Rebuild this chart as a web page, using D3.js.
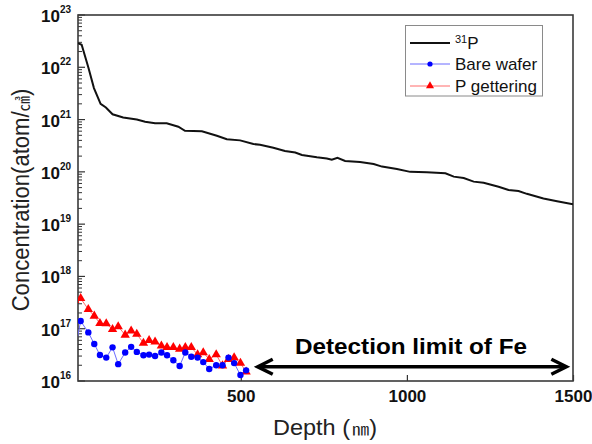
<!DOCTYPE html>
<html lang="en">
<head>
    <meta charset="UTF-8">
    <title>Concentration vs Depth</title>
    <style>
        body { margin: 0; background: #ffffff; }
        svg { display: block; font-family: Arial, 'Liberation Sans', 'Noto Sans CJK KR', sans-serif; }
        .tick-label { font-weight: bold; font-size: 17px; fill: #111; }
    </style>
    <script src="https://d3js.org/d3.v7.min.js"></script>
</head>
<body>
<svg id="chart" width="592" height="444"></svg>
<script>
    // 31P profile (depth nm, atom/cm3)
    const p31Depth = [10, 21, 41, 58, 78, 94, 114, 146, 187, 212, 242, 277, 312, 332, 383, 428, 458, 498,
        538, 558, 598, 633, 664, 684, 729, 759, 774, 791, 814, 859, 900, 925, 970, 1010, 1060, 1116, 1141,
        1171, 1201, 1231, 1276, 1306, 1336, 1361, 1411, 1452, 1500];
    const p31Conc = [2.9e22, 2.7e22, 1.0e22, 4e21, 2e21, 1.7e21, 1.26e21, 1.1e21, 1.0e21, 9.1e20, 8.5e20, 8.5e20,
        7.3e20, 6.1e20, 6e20, 4.9e20, 4.2e20, 4e20, 3.4e20, 3.3e20, 2.9e20, 2.5e20, 2.35e20, 2.1e20, 1.9e20,
        1.8e20, 1.7e20, 1.85e20, 1.62e20, 1.55e20, 1.41e20, 1.26e20, 1.13e20, 1.0e20, 9.8e19, 9.4e19, 8.1e19,
        7.6e19, 6.5e19, 6.2e19, 5.2e19, 4.5e19, 4.3e19, 3.8e19, 3.1e19, 2.75e19, 2.4e19];

    // Fe profiles
    const feDepth = [0, 18, 41, 59, 76, 95, 114, 131, 152, 170, 187, 207, 224, 242, 261, 278, 297, 316, 333,
        351, 370, 387, 405, 426, 445, 463, 480, 499, 516];
    const bareConc = [3.6e16, 1.4e17, 8.5e16, 5.1e16, 3.15e16, 2.8e16, 4.4e16, 2.1e16, 3.5e16, 4.5e16, 3.6e16,
        3.1e16, 3.2e16, 3.0e16, 3.5e16, 3.1e16, 2.5e16, 1.94e16, 3.5e16, 2.9e16, 2.8e16, 2.3e16, 1.7e16,
        2.0e16, 2.0e16, 2.8e16, 2.2e16, 1.3e16, 1.6e16];
    const pgetConc = [3.5e17, 3.8e17, 2.35e17, 1.75e17, 1.27e17, 1.25e17, 9.7e16, 1.1e17, 7.6e16, 9.1e16, 7.9e16,
        5.3e16, 6e16, 5.6e16, 4.7e16, 4.4e16, 4.4e16, 4.1e16, 4.4e16, 4.4e16, 3.2e16, 3.5e16, 2.6e16, 3.2e16,
        1.96e16, 2.6e16, 2.8e16, 2.2e16, 1.5e16];

    const xTicks = [500, 1000, 1500];
    const yExponents = [16, 17, 18, 19, 20, 21, 22, 23];
    const legendLabels = ["31P", "Bare wafer", "P gettering"];
    const detectionRange = [548, 1483];
    const detectionLevel = 1.87e16;

    const svg = d3.select("#chart");
    const pLeft = 78, pRight = 573, pTop = 15, pBottom = 381;

    const x = d3.scaleLinear().domain([10, 1500]).range([pLeft, pRight]);
    const y = d3.scaleLog().domain([1e16, 1e23]).range([pBottom, pTop]);

    svg.append("defs").append("clipPath").attr("id", "plot-clip")
        .append("rect").attr("x", pLeft).attr("y", pTop)
        .attr("width", pRight - pLeft).attr("height", pBottom - pTop);

    // minor + major ticks on y axis (inside)
    const yAxis = svg.append("g").attr("transform", `translate(${pLeft},0)`);
    yExponents.forEach(e => {
        yAxis.append("line").attr("x1", 0).attr("x2", 7)
            .attr("y1", y(Math.pow(10, e))).attr("y2", y(Math.pow(10, e)))
            .attr("stroke", "#333").attr("stroke-width", 1.2);
        if (e < 23) {
            for (let m = 2; m < 10; m++) {
                const v = m * Math.pow(10, e);
                yAxis.append("line").attr("x1", 0).attr("x2", 4)
                    .attr("y1", y(v)).attr("y2", y(v))
                    .attr("stroke", "#333").attr("stroke-width", 1);
            }
        }
        const t = svg.append("text").attr("class", "tick-label")
            .attr("x", 71).attr("y", y(Math.pow(10, e)) + 7)
            .attr("text-anchor", "end");
        t.append("tspan").attr("font-size", 17).text("10");
        t.append("tspan").attr("font-size", 10).attr("dy", -9).text(e);
    });

    // x ticks
    const xAxis = svg.append("g").attr("transform", `translate(0,${pBottom})`)
        .call(d3.axisBottom(x).tickValues(xTicks).tickSize(-6).tickFormat(d3.format("d")));
    xAxis.select(".domain").remove();
    xAxis.selectAll(".tick line").attr("stroke", "#333").attr("stroke-width", 1.2);
    xAxis.selectAll(".tick text").attr("class", "tick-label").attr("dy", 0).attr("y", 21);
    xAxis.attr("font-family", null).attr("font-size", null);

    // frame
    svg.append("rect").attr("x", pLeft).attr("y", pTop)
        .attr("width", pRight - pLeft).attr("height", pBottom - pTop)
        .attr("fill", "none").attr("stroke", "#3a3a3a").attr("stroke-width", 1.6);

    const plot = svg.append("g").attr("clip-path", "url(#plot-clip)");

    const line = d3.line().x(d => x(d[0])).y(d => y(d[1]));

    plot.append("path")
        .datum(d3.zip(p31Depth, p31Conc))
        .attr("d", line).attr("fill", "none")
        .attr("stroke", "#111").attr("stroke-width", 2);

    const bare = d3.zip(feDepth, bareConc);
    const pget = d3.zip(feDepth, pgetConc);

    plot.append("path").datum(bare).attr("d", line).attr("fill", "none")
        .attr("stroke", "#6b6bff").attr("stroke-width", 1);
    plot.append("path").datum(pget).attr("d", line).attr("fill", "none")
        .attr("stroke", "#ff6b6b").attr("stroke-width", 1);

    const tri = d3.symbol().type(d3.symbolTriangle).size(38);
    plot.selectAll(".tri").data(pget).join("path").attr("class", "tri")
        .attr("d", tri).attr("transform", d => `translate(${x(d[0])},${y(d[1])})`)
        .attr("fill", "#ff0000");
    plot.selectAll(".dot").data(bare).join("circle").attr("class", "dot")
        .attr("cx", d => x(d[0])).attr("cy", d => y(d[1])).attr("r", 3.2)
        .attr("fill", "#0000ff");

    // detection limit arrow
    const ay = y(detectionLevel), ax0 = x(detectionRange[0]), ax1 = x(detectionRange[1]);
    const arrow = svg.append("g").attr("stroke", "#000").attr("stroke-width", 3.5)
        .attr("fill", "none").attr("stroke-linecap", "butt");
    arrow.append("line").attr("x1", ax0 + 2).attr("x2", ax1 - 2).attr("y1", ay).attr("y2", ay);
    arrow.append("path").attr("d", `M${ax0 + 16},${ay - 7.5}L${ax0 + 1},${ay}L${ax0 + 16},${ay + 7.5}`);
    arrow.append("path").attr("d", `M${ax1 - 16},${ay - 7.5}L${ax1 - 1},${ay}L${ax1 - 16},${ay + 7.5}`);
    svg.append("text").attr("x", 295).attr("y", 354)
        .attr("font-size", 22).attr("font-weight", "bold").attr("fill", "#000")
        .attr("textLength", 232).attr("lengthAdjust", "spacingAndGlyphs")
        .text("Detection limit of Fe");

    // axis titles
    const xt = svg.append("text").attr("x", 273).attr("y", 435)
        .attr("font-size", 22).attr("fill", "#222")
        .attr("textLength", 104).attr("lengthAdjust", "spacingAndGlyphs");
    xt.append("tspan").text("Depth (");
    xt.append("tspan").attr("font-size", 16).attr("dx", 2).text("㎚");
    xt.append("tspan").text(")");

    // rotated title, squeezed slightly along its length to the reference width
    const yt = svg.append("text").attr("transform", "translate(29,200) rotate(-90) scale(0.96,1)")
        .attr("text-anchor", "middle").attr("font-size", 23).attr("fill", "#222");
    yt.append("tspan").text("Concentration(atom/");
    yt.append("tspan").attr("font-size", 16).text("㎤");
    yt.append("tspan").text(")");

    // legend
    const lg = svg.append("g");
    lg.append("rect").attr("x", 405.5).attr("y", 25.5).attr("width", 137).attr("height", 70.5)
        .attr("fill", "#fff").attr("stroke", "#8a8a8a").attr("stroke-width", 1);
    const rows = [43, 64, 86];
    const colors = ["#111", "#6b6bff", "#ff6b6b"];
    rows.forEach((ry, i) => {
        lg.append("line").attr("x1", 410).attr("x2", 450).attr("y1", ry).attr("y2", ry)
            .attr("stroke", colors[i]).attr("stroke-width", i === 0 ? 2 : 1);
        const t = lg.append("text").attr("x", 455).attr("y", ry + 6)
            .attr("font-size", 17).attr("fill", "#111");
        if (i === 0) {
            t.append("tspan").attr("font-size", 11).attr("dy", -6).text("31");
            t.append("tspan").attr("dy", 6).text("P");
        } else {
            t.text(legendLabels[i]);
        }
    });
    lg.append("circle").attr("cx", 430).attr("cy", rows[1]).attr("r", 2.6).attr("fill", "#0000ff");
    lg.append("path").attr("d", d3.symbol().type(d3.symbolTriangle).size(28))
        .attr("transform", `translate(430,${rows[2]})`).attr("fill", "#ff0000");
</script>
</body>
</html>
